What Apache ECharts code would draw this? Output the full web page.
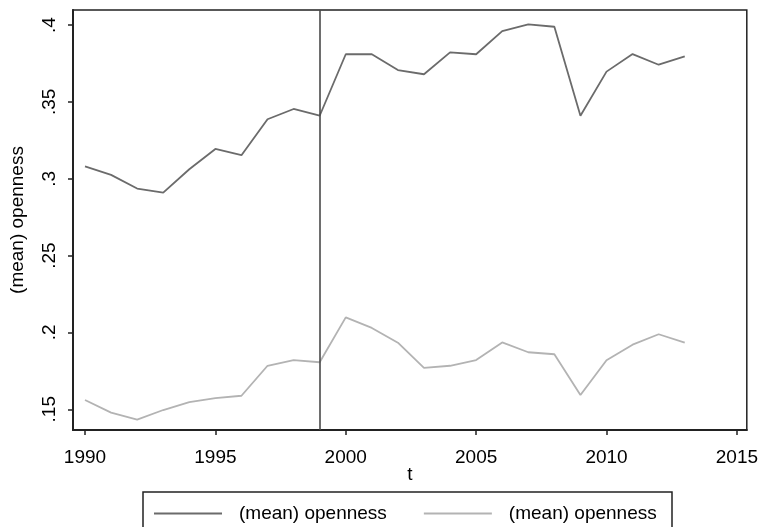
<!DOCTYPE html>
<html>
<head>
<meta charset="utf-8">
<script src="https://cdn.jsdelivr.net/npm/echarts@6/dist/echarts.min.js"></script>
<style>
html,body{margin:0;padding:0;background:#fff;}
#c{width:761px;height:527px;}
</style>
</head>
<body>
<div id="c"></div>
<script>
var years = [1990,1991,1992,1993,1994,1995,1996,1997,1998,1999,2000,2001,2002,2003,2004,2005,2006,2007,2008,2009,2010,2011,2012,2013];
var opennessDark = [0.308,0.3025,0.2936,0.291,0.3062,0.3194,0.3153,0.3387,0.3454,0.341,0.381,0.381,0.3707,0.368,0.3822,0.381,0.3961,0.4004,0.3989,0.341,0.3697,0.3811,0.3742,0.3796];
var opennessLight = [0.156,0.1478,0.1432,0.1495,0.1547,0.1573,0.1588,0.1783,0.182,0.1806,0.2098,0.2029,0.1933,0.1769,0.1783,0.182,0.1935,0.1871,0.1858,0.1593,0.1819,0.192,0.1988,0.1933];
var seriesNames = ['(mean) openness', '(mean) openness '];
var breakYear = 1999;
var xTicks = [1990,1995,2000,2005,2010,2015];
var yTicks = [0.15,0.2,0.25,0.3,0.35,0.4];

function pairs(xs, ys){ return xs.map(function(x,i){ return [x, ys[i]]; }); }
function yFmt(v){ var s = String(Math.round(v*100)/100); return s.replace(/^0\./,'.'); }
function xFmt(v){ return String(Math.round(v)); }

var FONT = 'Liberation Sans, Arial, sans-serif';
var FS = 19;
var chart = echarts.init(document.getElementById('c'), null, {renderer:'canvas'});
chart.setOption({
  animation:false,
  backgroundColor:'#fff',
  grid:{left:71,right:11,top:10,bottom:97,show:true,borderColor:'#222',borderWidth:1.5,backgroundColor:'transparent'},
  xAxis:{
    type:'value', min:1989.54, max:2015.38,
    name:'t', nameLocation:'middle', nameGap:35, nameMoveOverlap:false,
    nameTextStyle:{fontFamily:FONT,fontSize:FS,color:'#000'},
    axisLine:{show:true,onZero:false,lineStyle:{color:'#222',width:2}},
    axisTick:{show:true,length:5,lineStyle:{color:'#222',width:1.5},customValues:xTicks},
    axisLabel:{fontFamily:FONT,fontSize:FS,color:'#000',margin:18,customValues:xTicks,formatter:xFmt},
    splitLine:{show:false}
  },
  yAxis:{
    type:'value', min:0.1365, max:0.4098,
    name:'(mean) openness', nameLocation:'middle', nameGap:46,
    nameTextStyle:{fontFamily:FONT,fontSize:FS,color:'#000'},
    axisLine:{show:true,onZero:false,lineStyle:{color:'#222',width:2}},
    axisTick:{show:true,length:5,lineStyle:{color:'#222',width:1.5},customValues:yTicks},
    axisLabel:{fontFamily:FONT,fontSize:FS,color:'#000',rotate:90,margin:14,customValues:yTicks,formatter:yFmt},
    splitLine:{show:false}
  },
  legend:{
    left:143, top:492,
    padding:[12,10,40,10],
    borderColor:'#222', borderWidth:1.5,
    itemWidth:68, itemHeight:14, itemGap:36,
    itemStyle:{opacity:0},
    textStyle:{fontFamily:FONT,fontSize:FS,color:'#000',padding:[0,0,0,12]},
    data:seriesNames
  },
  series:[
    {name:seriesNames[0],type:'line',data:pairs(years,opennessDark),symbol:'none',lineStyle:{color:'#6b6b6b',width:1.8},itemStyle:{color:'#6b6b6b'},
     markLine:{silent:true,symbol:['none','none'],label:{show:false},lineStyle:{color:'#4a4a4a',width:1.6,type:'solid'},data:[{xAxis:breakYear}]}},
    {name:seriesNames[1],type:'line',data:pairs(years,opennessLight),symbol:'none',lineStyle:{color:'#b3b3b3',width:1.8},itemStyle:{color:'#b3b3b3'}}
  ]
});
</script>
</body>
</html>
